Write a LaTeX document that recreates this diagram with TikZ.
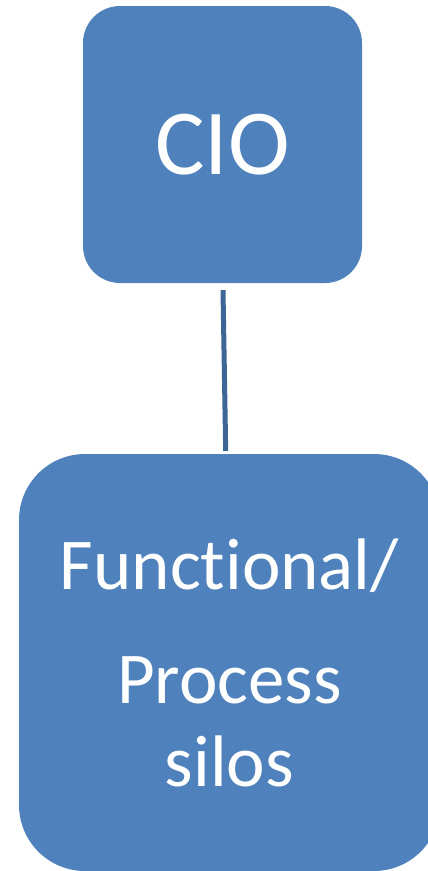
\documentclass[tikz,border=0pt]{standalone}
\usepackage{fontspec}
\setmainfont[Ligatures=NoCommon]{Carlito}
\definecolor{boxblue}{HTML}{4F81BD}
\definecolor{linkblue}{HTML}{3D6697}

\begin{document}
\begin{tikzpicture}[x=1pt,y=1pt]
            \tikzstyle{orgbox}=[draw=none, fill=boxblue, text=white, align=center, inner sep=0pt]
            \tikzstyle{orglink}=[draw=linkblue, line width=5pt]
            \useasboundingbox (0,0) rectangle (428,-871);
            \node [orgbox, rounded corners=37pt, minimum width=279pt, minimum height=277pt,
                   font=\fontsize{93}{112}\selectfont] (cio) at (222.5,-144.5) {CIO};
            \node [orgbox, rounded corners=66pt, minimum width=421pt, minimum height=417pt,
                   font=\fontsize{73}{83}\selectfont] (silos) at (229.5,-662.5) {Functional/\\[31pt]Process\\silos};
            \draw [orglink] ([xshift=0.5pt,yshift=-7pt]cio.south) -- ([xshift=-3.8pt,yshift=3pt]silos.north);
\end{tikzpicture}
\end{document}
